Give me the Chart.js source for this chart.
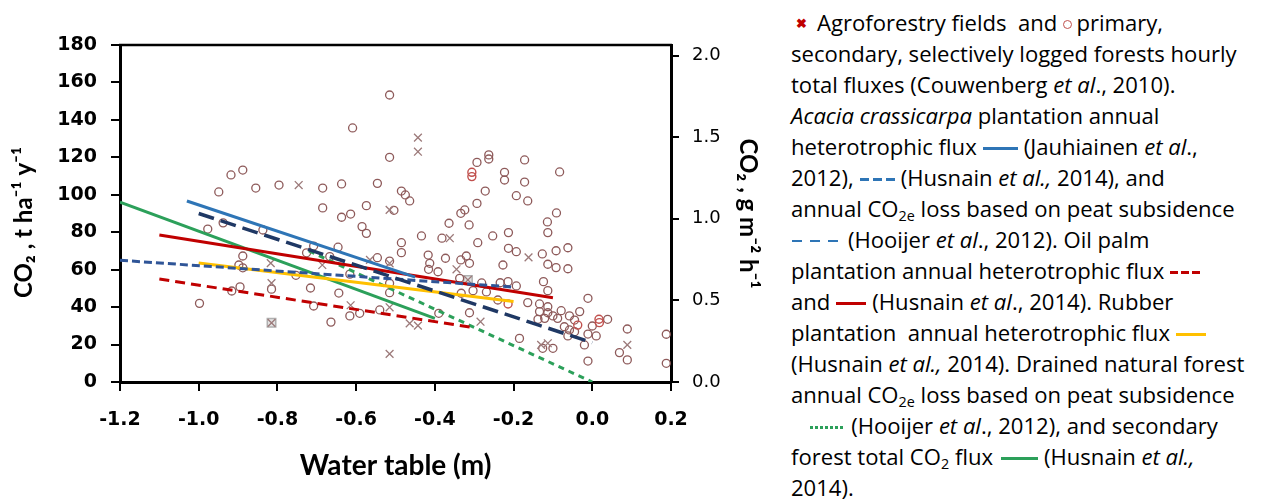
<!DOCTYPE html>
<html><head><meta charset="utf-8">
<script src="https://cdn.jsdelivr.net/npm/chart.js@4.4.0/dist/chart.umd.min.js"></script>
<style>
html,body{margin:0;padding:0;background:#fff;width:1271px;height:501px;overflow:hidden;}
#wrap{position:absolute;left:0;top:0;width:770px;height:501px;}
#legend{position:absolute;left:791px;top:7px;font-family:'Open Sans',sans-serif;font-size:19px;line-height:31px;color:#000;white-space:nowrap;}
#legend div{height:31px;}
#legend i{font-style:italic;}
sub{font-size:0.65em;vertical-align:-0.25em;line-height:0;}
.smp{display:inline-block;vertical-align:middle;height:3px;margin:0 6px 0 6px;position:relative;top:-1px;}
.mk-x{color:#c00000;font-weight:bold;font-size:13px;display:inline-block;margin:0 10px 0 5px;vertical-align:middle;position:relative;top:-2px;}
.mk-o{display:inline-block;width:7px;height:7px;border:1.6px solid #c0504d;border-radius:50%;margin:0 4px 0 6px;vertical-align:middle;position:relative;top:-1px;}
</style>
</head><body>
<div id="wrap"><canvas id="c" width="770" height="501"></canvas></div>
<div id="legend">
<div><span class="mk-x">✖</span>Agroforestry fields&nbsp; and<span class="mk-o"></span>primary,</div>
<div><span id="l2">secondary, selectively logged forests hourly</span></div>
<div>total fluxes (Couwenberg <i>et al</i>., 2010).</div>
<div><i>Acacia crassicarpa</i> plantation annual</div>
<div>heterotrophic flux<span class="smp" style="width:35px;background:#2e75b6;"></span>(Jauhiainen <i>et al</i>.,</div>
<div>2012),<span class="smp" style="width:35px;background:repeating-linear-gradient(to right,#2e75b6 0 9px,transparent 9px 13px);"></span>(Husnain <i>et al.,</i> 2014), and</div>
<div>annual CO<sub>2e</sub> loss based on peat subsidence</div>
<div><span class="smp" style="width:50px;margin-left:1px;height:2.5px;background:repeating-linear-gradient(to right,#2e75b6 0 10px,transparent 10px 18px);"></span>(Hooijer <i>et al</i>., 2012). Oil palm</div>
<div>plantation annual heterotrophic flux<span class="smp" style="width:30px;background:repeating-linear-gradient(to right,#c00000 0 8px,transparent 8px 11px);"></span></div>
<div>and<span class="smp" style="width:30px;background:#c00000;"></span>(Husnain <i>et al</i>., 2014). Rubber</div>
<div>plantation&nbsp; annual heterotrophic flux<span class="smp" style="width:30px;background:#ffc000;"></span></div>
<div>(Husnain <i>et al.,</i> 2014). Drained natural forest</div>
<div>annual CO<sub>2e</sub> loss based on peat subsidence</div>
<div>&nbsp;&nbsp;&nbsp;<span class="smp" style="width:35px;margin-left:2px;background:repeating-linear-gradient(to right,#2ca05a 0 3px,transparent 3px 5px);"></span>(Hooijer <i>et al</i>., 2012), and secondary</div>
<div>forest total CO<sub>2</sub> flux<span class="smp" style="width:37px;margin-left:8px;background:#2ca05a;"></span>(Husnain <i>et al.,</i></div>
<div>2014).</div>
</div>
<script>
// ---- Data ----
const circleX = [-0.609,-0.918,-0.888,-0.949,-0.855,-0.796,-0.685,-0.637,-0.685,-0.637,-0.614,-0.938,-0.977,-0.837,
 -0.888,-0.898,-0.888,-0.726,-0.708,-0.646,-0.667,-0.753,-0.895,-0.916,-0.815,-0.716,-0.644,-0.708,-0.664,-0.998,-0.616,-0.616,-0.591,
 -0.515,-0.515,-0.546,-0.485,-0.475,-0.464,-0.574,-0.504,-0.585,-0.364,-0.334,-0.324,-0.313,-0.293,-0.272,-0.293,-0.263,-0.263,-0.223,-0.223,-0.193,
 -0.172,-0.083,-0.172,-0.164,-0.091,-0.114,
 -0.574,-0.434,-0.382,-0.485,-0.485,-0.291,-0.253,-0.213,-0.213,-0.193,-0.227,-0.546,-0.515,-0.417,-0.413,-0.416,-0.392,-0.373,-0.334,-0.320,-0.312,-0.337,-0.515,-0.515,-0.540,-0.390,-0.333,-0.312,-0.303,-0.234,-0.214,-0.193,-0.240,-0.281,-0.269,
 -0.113,-0.127,-0.092,-0.062,-0.113,-0.092,-0.062,-0.124,-0.113,-0.164,-0.134,-0.113,-0.079,-0.134,-0.113,-0.032,-0.138,-0.121,-0.100,-0.088,-0.058,-0.011,-0.045,0.000,0.039,-0.071,-0.058,-0.045,-0.062,-0.011,0.010,-0.020,-0.185,-0.126,-0.100,-0.011,0.089,0.069,0.089,0.188,0.188];
const circleY = [135.7,110.6,113.2,101.5,103.6,105.2,103.6,105.8,93.0,88.0,89.7,85.0,81.7,81.2,
 67.3,62.5,61.0,69.0,72.6,72.0,67.0,57.0,50.8,48.6,49.6,50.2,47.5,40.6,32.0,42.0,35.3,57.6,36.7,
 153.3,120.0,106.1,102.0,99.9,96.7,94.2,91.7,83.0,84.8,90.1,91.9,83.9,95.4,102.0,117.3,121.3,119.1,112.0,107.9,99.5,
 118.6,112.2,106.8,96.7,90.3,85.5,
 79.4,78.0,76.8,74.4,69.1,74.4,78.0,79.8,71.4,69.6,62.5,66.4,64.6,67.8,63.4,60.2,58.9,66.1,65.2,67.3,63.4,55.4,52.7,47.7,38.5,36.7,47.4,37.0,48.8,53.0,53.6,51.3,43.8,52.9,48.1,
 79.8,68.4,70.1,71.7,62.9,61.1,60.5,53.6,48.8,42.4,41.7,40.2,38.1,37.6,37.0,37.6,33.5,34.0,35.3,34.0,35.3,44.7,33.1,29.9,33.5,29.5,27.8,26.9,24.6,25.6,24.6,19.8,23.3,18.0,18.0,11.2,28.3,15.7,11.8,25.5,10.0];
const redCircleX = [-0.306,-0.306,-0.214,-0.037,0.017,0.018];
const redCircleY = [112.0,109.7,41.7,30.4,33.5,31.7];
const crossX = [-0.746,-0.817,-0.815,-0.686,-0.614,-0.443,-0.443,-0.515,-0.362,-0.565,-0.515,-0.345,-0.515,-0.515,-0.464,-0.443,-0.284,-0.162,-0.130,-0.113,0.089,-0.815,-0.316];
const crossY = [105.2,63.5,52.8,62.5,41.0,130.5,123.0,91.9,76.8,65.2,63.4,60.2,39.9,15.0,31.3,30.1,32.2,66.6,19.8,20.7,19.8,31.6,54.5];
const boxX = [-0.815,-0.316];
const boxY = [31.6,54.5];
// regression / model lines (end points)
const jauhX = [-1.03,-0.45],  jauhY = [96.7,56.0];
const husAcaciaX = [-1.0,0.0], husAcaciaY = [90,21];
const hooAcaciaX = [-1.2,-0.2], hooAcaciaY = [65,50.7];
const oilDashX = [-1.1,-0.3], oilDashY = [55,29];
const oilSolidX = [-1.1,-0.1], oilSolidY = [78.5,45];
const rubberX = [-1.0,-0.2], rubberY = [63.5,43];
const forestDotX = [-0.72,0.0], forestDotY = [70,0];
const secForestX = [-1.2,-0.4], secForestY = [96,34];
// axis ticks
const xTicks = [-1.2,-1.0,-0.8,-0.6,-0.4,-0.2,0.0,0.2];
const yTicks = [0,20,40,60,80,100,120,140,160,180];
const y2Ticks = [0.0,0.5,1.0,1.5,2.0];

// ---- legend font fit ----
(function(){const l=document.getElementById('l2');const w=l.getBoundingClientRect().width;const lg=document.getElementById('legend');lg.style.fontSize=(19*446/w)+'px';})();

const pts=(xs,ys)=>xs.map((x,i)=>({x:x,y:ys[i]}));
const line=(xs,ys,color,dash,w)=>({type:'scatter',showLine:true,data:pts(xs,ys),borderColor:color,backgroundColor:color,borderWidth:w||3,borderDash:dash||[],pointRadius:0,fill:false,yAxisID:'y'});
const FONT="'DejaVu Sans', sans-serif";
const TFONT="Lato, 'DejaVu Sans', sans-serif";

const frame={id:'frame',afterDraw(c){const a=c.chartArea,ctx=c.ctx;ctx.save();ctx.strokeStyle='#000';ctx.lineWidth=2.5;ctx.beginPath();ctx.moveTo(a.left-1,a.top);ctx.lineTo(a.right+1,a.top);ctx.stroke();ctx.restore();}};

new Chart(document.getElementById('c'),{
 type:'scatter',
 data:{datasets:[
  line(husAcaciaX,husAcaciaY,'#1f3864',[16,7],3.5),
  line(hooAcaciaX,hooAcaciaY,'#2f5597',[8,4],3),
  line(jauhX,jauhY,'#2e75b6',[],3),
  line(oilDashX,oilDashY,'#c00000',[10,6],3),
  line(oilSolidX,oilSolidY,'#c00000',[],3),
  line(rubberX,rubberY,'#ffc000',[],3),
  line(forestDotX,forestDotY,'#2ca05a',[6,5],3),
  line(secForestX,secForestY,'#2ca05a',[],3),
  {data:pts(crossX,crossY),pointStyle:'crossRot',pointRadius:5.5,borderColor:'#9c7a7a',borderWidth:1.3,backgroundColor:'transparent'},
  {data:pts(redCircleX,redCircleY),pointStyle:'circle',pointRadius:4,borderColor:'#c0504d',borderWidth:1.4,backgroundColor:'transparent'},
  {data:pts(circleX,circleY),pointStyle:'circle',pointRadius:4,borderColor:'#8e5a5a',borderWidth:1.3,backgroundColor:'transparent'},
  {data:pts(boxX,boxY),pointStyle:'rect',pointRadius:6,borderColor:'#b0b0b0',borderWidth:1.5,backgroundColor:'#e4e4e4'}
 ]},
 options:{
  responsive:false,animation:false,
  layout:{padding:{top:45,left:0,right:0,bottom:0}},
  plugins:{legend:{display:false},tooltip:{enabled:false}},
  scales:{
   x:{type:'linear',min:-1.2,max:0.2,position:'bottom',
    afterBuildTicks:s=>{s.ticks=xTicks.map(v=>({value:v}));},
    ticks:{callback:v=>Number(v).toFixed(1),font:{family:FONT,size:19,weight:'bold'},color:'#000',padding:18,maxRotation:0,autoSkip:false},
    grid:{display:true,drawOnChartArea:false,drawTicks:true,tickLength:9,color:'#000',lineWidth:2},
    border:{color:'#000',width:3},
    title:{display:true,text:'Water table (m)',font:{family:TFONT,size:28,weight:'bold'},color:'#000',padding:{top:0,bottom:18}},
    afterFit:s=>{s.height=119;}},
   y:{type:'linear',min:0,max:180,position:'left',
    afterBuildTicks:s=>{s.ticks=yTicks.map(v=>({value:v}));},
    ticks:{callback:v=>String(v),font:{family:FONT,size:19,weight:'bold'},color:'#000',padding:14},
    grid:{display:true,drawOnChartArea:false,drawTicks:true,tickLength:9,color:'#000',lineWidth:2},
    border:{color:'#000',width:3},
    title:{display:true,text:'CO₂ , t ha⁻¹ y⁻¹\u2003',font:{family:TFONT,size:24,weight:'bold'},color:'#000',padding:{top:10,bottom:0}},
    afterFit:s=>{s.width=120;}},
   y2:{type:'linear',min:0,max:2.065,position:'right',
    afterBuildTicks:s=>{s.ticks=y2Ticks.map(v=>({value:v}));},
    ticks:{callback:v=>Number(v).toFixed(1),font:{family:FONT,size:18},color:'#000',padding:13},
    grid:{display:true,drawOnChartArea:false,drawTicks:true,tickLength:8,color:'#000',lineWidth:2},
    border:{color:'#000',width:3},
    title:{display:true,text:'CO₂ , g m⁻² h⁻¹',font:{family:TFONT,size:24,weight:'bold'},color:'#000',padding:{top:8,bottom:0}},
    afterFit:s=>{s.width=99;}}
  }
 },
 plugins:[frame]
});
</script>
</body></html>
